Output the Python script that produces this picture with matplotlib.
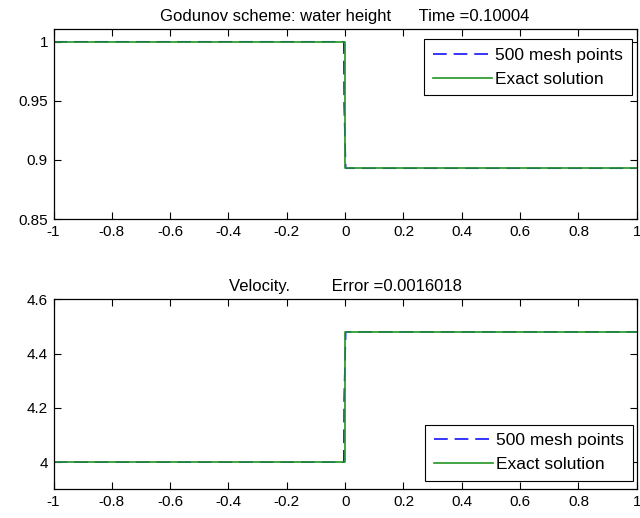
import numpy as np
import matplotlib
matplotlib.use("Agg")
import matplotlib.pyplot as plt

plt.rcParams['font.family'] = ['Liberation Sans', 'DejaVu Sans']
plt.rcParams['font.size'] = 11

# exact solution (piecewise constant, jump at x=0)
x_exact = [-1.0, 0.0, 0.0, 1.0]
h_exact = [1.0, 1.0, 0.893, 0.893]
u_exact = [4.0, 4.0, 4.48, 4.48]

# numerical solution near the jump (500 mesh points, flat elsewhere)
x_num = [-1.0, -0.0045, -0.0035, 0.002, 1.0]
h_num = [1.0, 1.0, 0.946, 0.893, 0.893]
u_num = [4.0, 4.0, 4.237, 4.48, 4.48]

xticks = [-1, -0.8, -0.6, -0.4, -0.2, 0, 0.2, 0.4, 0.6, 0.8, 1]
xticklabels = ['-1', '-0.8', '-0.6', '-0.4', '-0.2', '0', '0.2', '0.4', '0.6', '0.8', '1']
h_ticks = [0.85, 0.9, 0.95, 1.0]
h_ticklabels = ['0.85', '0.9', '0.95', '1']
u_ticks = [4.0, 4.2, 4.4, 4.6]
u_ticklabels = ['4', '4.2', '4.4', '4.6']

blue = '#0000ff'
green = '#229622'

fig = plt.figure(figsize=(6.4, 5.18), dpi=100)
ax1 = fig.add_axes([0.0836, 0.577, 0.9114, 0.3664])
ax2 = fig.add_axes([0.0836, 0.0554, 0.9114, 0.3668])

def style(ax):
    ax.set_xlim(-1, 1)
    ax.set_xticks(xticks)
    ax.set_xticklabels(xticklabels)
    ax.tick_params(direction='in', top=True, right=True, length=5, width=0.8, pad=4)
    for s in ax.spines.values():
        s.set_linewidth(0.9)

leg_kw = dict(fancybox=False, edgecolor='black', framealpha=1, fontsize=12.5,
              handlelength=3.4, handletextpad=0.2, labelspacing=0.5,
              borderpad=0.5, borderaxespad=0, bbox_transform=fig.transFigure)

ax1.plot(x_num, h_num, color=blue, lw=1.1, dashes=(9, 4.5), label='500 mesh points')
ax1.plot(x_exact, h_exact, '-', color=green, lw=1.2, label='Exact solution')
style(ax1)
ax1.set_ylim(0.85, 1.0105)
ax1.set_yticks(h_ticks)
ax1.set_yticklabels(h_ticklabels)
ax1.set_title('Godunov scheme: water height      Time =0.10004', fontsize=12, pad=6)
leg1 = ax1.legend(loc='upper right', bbox_to_anchor=(632 / 640, 1 - 39 / 518), **leg_kw)
leg1.get_frame().set_linewidth(0.8)

ax2.plot(x_num, u_num, color=blue, lw=1.1, dashes=(9, 4.5), label='500 mesh points')
ax2.plot(x_exact, u_exact, '-', color=green, lw=1.2, label='Exact solution')
style(ax2)
ax2.set_ylim(3.9, 4.6)
ax2.set_yticks(u_ticks)
ax2.set_yticklabels(u_ticklabels)
ax2.set_title('Velocity.         Error =0.0016018', fontsize=12, pad=6)
leg2 = ax2.legend(loc='lower right', bbox_to_anchor=(633 / 640, 1 - 481 / 518), **leg_kw)
leg2.get_frame().set_linewidth(0.8)

fig.savefig('out.png', dpi=100)
